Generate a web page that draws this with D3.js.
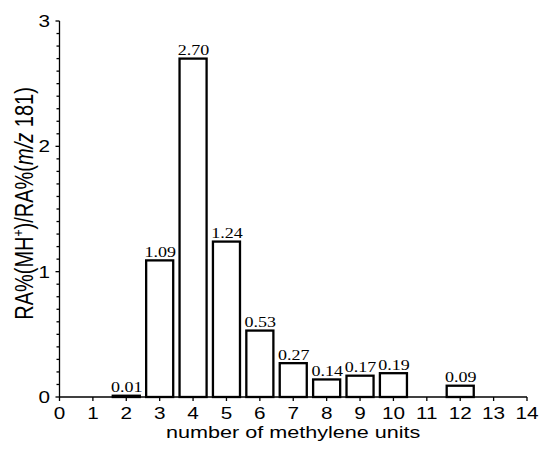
<!DOCTYPE html>
<html lang="en">
<head>
    <meta charset="UTF-8">
    <title>RA% vs methylene units</title>
    <script src="https://d3js.org/d3.v7.min.js"></script>
    <style>
        body {
            margin: 0;
            background-color: #fff;
        }

        .axis-line {
            stroke: #000;
            stroke-width: 1.3px;
        }

        .tick-label {
            font-family: "Liberation Sans", Arial, sans-serif;
            font-size: 16.3px;
            fill: #000;
        }

        .bar {
            fill: #fff;
            stroke: #000;
            stroke-width: 2.3px;
        }

        .value-label {
            font-family: "Liberation Serif", "Times New Roman", serif;
            font-size: 15px;
            fill: #000;
        }
    </style>
</head>

<body>
    <svg id="chart" width="541" height="449"></svg>

    <script>
        // data
        const units = [2, 3, 4, 5, 6, 7, 8, 9, 10, 12];
        const ratios = [0.01, 1.09, 2.70, 1.24, 0.53, 0.27, 0.14, 0.17, 0.19, 0.09];
        const valueLabels = ["0.01", "1.09", "2.70", "1.24", "0.53", "0.27", "0.14", "0.17", "0.19", "0.09"];
        const xTicks = d3.range(0, 15);
        const yTicks = [0, 1, 2, 3];
        const yMinorTicks = d3.range(0, 31).map(i => i / 10);

        const stretch = 1.27; // the scanned figure is wider than tall

        const svg = d3.select("#chart");

        const x = d3.scaleLinear().domain([0, 14]).range([59.5, 527]);
        const y = d3.scaleLinear().domain([0, 3]).range([397, 21]);
        const unit = x(1) - x(0);
        const barW = unit * 0.81;

        // bars
        svg.append("g")
            .selectAll("rect")
            .data(units)
            .enter().append("rect")
            .attr("class", "bar")
            .attr("x", (d, i) => x(d) - barW / 2)
            .attr("y", (d, i) => y(ratios[i]))
            .attr("width", barW)
            .attr("height", (d, i) => y(0) - y(ratios[i]));

        // value labels above bars
        svg.append("g")
            .selectAll("text")
            .data(units)
            .enter().append("text")
            .attr("class", "value-label")
            .attr("text-anchor", "middle")
            .attr("transform", (d, i) => `translate(${x(d) + 0.5},${y(ratios[i]) - 3.5}) scale(1.2,1)`)
            .text((d, i) => valueLabels[i]);

        // y axis
        svg.append("line")
            .attr("class", "axis-line")
            .attr("x1", x(0)).attr("x2", x(0))
            .attr("y1", y(3)).attr("y2", y(0));

        svg.append("g")
            .selectAll("line")
            .data(yMinorTicks)
            .enter().append("line")
            .attr("class", "axis-line")
            .attr("x1", d => x(0) - (Number.isInteger(d) ? 4 : 3))
            .attr("x2", x(0))
            .attr("y1", d => y(d)).attr("y2", d => y(d));

        svg.append("g")
            .selectAll("text")
            .data(yTicks)
            .enter().append("text")
            .attr("class", "tick-label")
            .attr("text-anchor", "end")
            .attr("dy", "0.36em")
            .attr("transform", d => `translate(50,${y(d)}) scale(${stretch},1)`)
            .text(d => d);

        // x axis
        svg.append("line")
            .attr("class", "axis-line")
            .attr("x1", x(0)).attr("x2", x(14))
            .attr("y1", y(0)).attr("y2", y(0));

        svg.append("g")
            .selectAll("line")
            .data(xTicks)
            .enter().append("line")
            .attr("class", "axis-line")
            .attr("x1", d => x(d)).attr("x2", d => x(d))
            .attr("y1", y(0)).attr("y2", y(0) + 4);

        svg.append("g")
            .selectAll("text")
            .data(xTicks)
            .enter().append("text")
            .attr("class", "tick-label")
            .attr("text-anchor", "middle")
            .attr("transform", d => `translate(${x(d)},418.5) scale(${stretch},1)`)
            .text(d => d);

        // axis titles
        svg.append("text")
            .attr("class", "tick-label")
            .style("font-size", "17px")
            .attr("text-anchor", "middle")
            .attr("transform", `translate(${(x(0) + x(14)) / 2},437.5) scale(${stretch},1)`)
            .text("number of methylene units");

        const yTitle = svg.append("text")
            .attr("class", "tick-label")
            .style("font-size", "20px")
            .attr("text-anchor", "middle")
            .attr("transform", `translate(33,203.5) scale(${stretch},1) rotate(-90)`);
        yTitle.append("tspan").text("RA%(MH");
        yTitle.append("tspan").style("font-size", "12px").attr("dy", "-8").text("+");
        yTitle.append("tspan").attr("dy", "8").text(")/RA%(");
        yTitle.append("tspan").style("font-style", "italic").text("m/z");
        yTitle.append("tspan").text(" 181)");
    </script>
</body>

</html>
